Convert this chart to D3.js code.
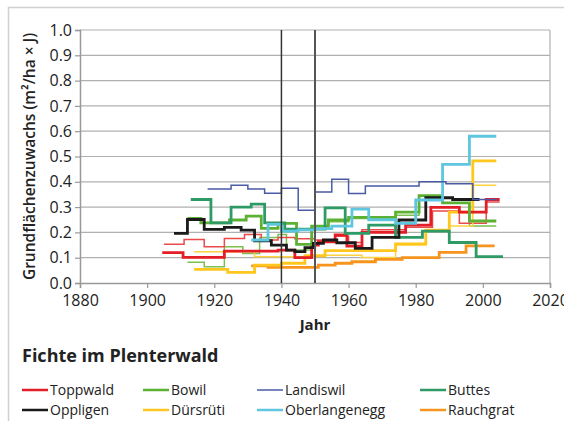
<!DOCTYPE html>
<html>
<head>
<meta charset="utf-8">
<script src="https://cdn.jsdelivr.net/npm/d3@7"></script>
<style>
  body { margin: 0; background: #fff; }
  svg { display: block; font-family: "Open Sans", "Noto Sans", sans-serif; }
</style>
</head>
<body>
<div id="chart"></div>
<script>
// Achsen
const yTicks = [0, 0.1, 0.2, 0.3, 0.4, 0.5, 0.6, 0.7, 0.8, 0.9, 1.0];
const xTicks = [1880, 1900, 1920, 1940, 1960, 1980, 2000, 2020];
const markerYears = [1940, 1950];

// Stufenreihen: [Jahr, Wert], letzter Punkt = Ende der Periode
const toppwaldA = [[1904.5,0.12],[1910.7,0.101],[1923,0.126],[1939,0.13],[1944,0.10],[1949,0.15],[1951,0.163],[1956,0.19],[1959.5,0.146],[1964,0.2],[1977,0.229],[1984.5,0.299],[1993,0.28],[2001,0.33],[2005,0.33]];
const toppwaldB = [[1905,0.153],[1911,0.172],[1917,0.143],[1923,0.176],[1929,0.192],[1934,0.17],[1939,0.18],[1944,0.175],[1950,0.17],[1956,0.185],[1960,0.16],[1964,0.21],[1977,0.22],[1985,0.285],[1993,0.236],[1997,0.236],[2001,0.32],[2005,0.32]];
const bowilA = [[1912,0.255],[1916,0.238],[1924.5,0.249],[1929.5,0.264],[1934,0.216],[1939,0.236],[1944.5,0.153],[1949,0.225],[1954,0.249],[1960,0.259],[1974,0.28],[1981,0.345],[1988,0.317],[1996,0.245],[2004,0.245]];
const bowilB = [[1912,0.082],[1917,0.064],[1923,0.143],[1928.5,0.117],[1933.5,0.18],[1939,0.192],[1941.5,0.13],[1949,0.222],[1954,0.242],[1960,0.255],[1974,0.268],[1981,0.328],[1988,0.315],[1996,0.225],[2004,0.225]];
const landiswil = [[1918,0.372],[1925,0.386],[1930,0.372],[1935,0.355],[1940,0.375],[1945,0.288],[1950,0.36],[1955,0.41],[1960,0.354],[1965,0.383],[1981,0.40],[1989,0.392],[1997,0.33],[2004,0.325]];
const buttes = [[1913,0.33],[1919,0.238],[1925,0.30],[1931,0.312],[1935,0.238],[1941,0.213],[1953,0.297],[1959,0.196],[1966,0.229],[1974,0.18],[1982,0.205],[1990,0.16],[1998,0.104],[2006,0.104]];
const oppligen = [[1908,0.196],[1912,0.251],[1917,0.212],[1923,0.22],[1928,0.209],[1932,0.167],[1937,0.15],[1941.5,0.13],[1944,0.124],[1947,0.14],[1949.5,0.157],[1952.5,0.17],[1956.5,0.159],[1962,0.137],[1967,0.18],[1975,0.249],[1983,0.337],[1991,0.33],[1999,0.33]];
const duersruetiA = [[1914,0.054],[1924,0.042],[1932,0.071],[1940,0.078],[1947,0.107],[1953,0.128],[1974,0.155],[1983,0.209],[1990,0.28],[1997,0.483],[2004,0.483]];
const duersruetiB = [[1914,0.124],[1932,0.104],[1947,0.11],[1964,0.101],[1974,0.15],[1983,0.209],[1990,0.225],[1997,0.386],[2004,0.386]];
const oberlangenegg = [[1931,0.17],[1936,0.232],[1940,0.205],[1945,0.21],[1950,0.215],[1955,0.225],[1961,0.292],[1966,0.25],[1974,0.236],[1980,0.328],[1988,0.469],[1996,0.58],[2004,0.58]];
const rauchgrat = [[1931,0.068],[1936,0.062],[1951,0.071],[1956,0.078],[1961,0.084],[1968,0.093],[1976,0.1],[1987,0.121],[1995,0.147],[2003.5,0.147]];

const series = [
  { data: bowilB, color: '#7cc04f', w: 1.5 },
  { data: toppwaldB, color: '#ea4a4a', w: 1.5 },
  { data: duersruetiB, color: '#ffd23f', w: 1.5 },
  { data: rauchgrat, color: '#f7941d', w: 2.8 },
  { data: duersruetiA, color: '#ffc61e', w: 2.8 },
  { data: toppwaldA, color: '#e41e26', w: 2.8 },
  { data: bowilA, color: '#5cb032', w: 2.8 },
  { data: buttes, color: '#2e9b67', w: 2.8 },
  { data: oppligen, color: '#1a1a1a', w: 2.8 },
  { data: oberlangenegg, color: '#5fc6df', w: 2.8 },
  { data: landiswil, color: '#4a5aa6', w: 1.5 }
];

const legendNames = ['Toppwald', 'Bowil', 'Landiswil', 'Buttes', 'Oppligen', 'Dürsrüti', 'Oberlangenegg', 'Rauchgrat'];
const legendColors = ['#e41e26', '#5cb032', '#4a5aa6', '#2e9b67', '#1a1a1a', '#ffc61e', '#5fc6df', '#f7941d'];

const width = 564, height = 421;
const margin = { left: 80, right: 14, top: 30, bottom: 138 };

const svg = d3.select('#chart').append('svg')
  .attr('width', width)
  .attr('height', height);

// äusserer Rahmen
svg.append('path')
  .attr('d', 'M8.5,' + height + ' V7.5 H' + width)
  .attr('fill', 'none')
  .attr('stroke', '#d0d0d0')
  .attr('stroke-width', 1.5);

const x = d3.scaleLinear().domain([1880, 2020]).range([margin.left, width - margin.right]);
const y = d3.scaleLinear().domain([0, 1]).range([height - margin.bottom, margin.top]);

// Gitter
svg.append('g')
  .selectAll('line')
  .data(yTicks.slice(1))
  .enter()
  .append('line')
  .attr('x1', x(1880))
  .attr('x2', x(2020))
  .attr('y1', d => y(d))
  .attr('y2', d => y(d))
  .attr('stroke', '#b0b0b0')
  .attr('stroke-width', 1.2);

// rechter Rand
svg.append('line')
  .attr('x1', x(2020)).attr('x2', x(2020))
  .attr('y1', y(0)).attr('y2', y(1))
  .attr('stroke', '#b0b0b0')
  .attr('stroke-width', 1.2);

// Achsen
const yAxis = svg.append('g')
  .attr('transform', 'translate(' + x(1880) + ',0)')
  .call(d3.axisLeft(y).tickValues(yTicks).tickFormat(d3.format('.1f')).tickSize(5).tickPadding(3));
const xAxis = svg.append('g')
  .attr('transform', 'translate(0,' + y(0) + ')')
  .call(d3.axisBottom(x).tickValues(xTicks).tickFormat(d3.format('d')).tickSize(5).tickPadding(7));

[yAxis, xAxis].forEach(a => {
  a.select('.domain').attr('stroke', '#999').attr('stroke-width', 1.5);
  a.selectAll('.tick line').attr('stroke', '#999').attr('stroke-width', 1.2);
  a.selectAll('.tick text').attr('font-size', 16).attr('fill', '#222')
    .attr('font-family', '"Open Sans", sans-serif');
});

// Stufenlinien
const line = d3.line()
  .x(d => x(d[0]))
  .y(d => y(d[1]))
  .curve(d3.curveStepAfter);

svg.append('g')
  .selectAll('path')
  .data(series)
  .enter()
  .append('path')
  .attr('d', d => line(d.data))
  .attr('fill', 'none')
  .attr('stroke', d => d.color)
  .attr('stroke-width', d => d.w);

// Markierungen 1940 / 1950
svg.append('g')
  .selectAll('line')
  .data(markerYears)
  .enter()
  .append('line')
  .attr('x1', d => x(d))
  .attr('x2', d => x(d))
  .attr('y1', y(0))
  .attr('y2', y(1))
  .attr('stroke', (d, i) => i === 0 ? '#333' : '#555')
  .attr('stroke-width', (d, i) => i === 0 ? 1.5 : 2);

// Achsentitel
svg.append('text')
  .attr('x', x(1950))
  .attr('y', 330)
  .attr('text-anchor', 'middle')
  .attr('font-size', 15)
  .attr('font-weight', 'bold')
  .attr('fill', '#222')
  .text('Jahr');

svg.append('text')
  .attr('transform', 'translate(35,' + (y(0.5)) + ') rotate(-90)')
  .attr('text-anchor', 'middle')
  .attr('font-size', 15.5)
  .attr('font-weight', 600)
  .attr('fill', '#222')
  .text('Grundflächenzuwachs (m²/ha × J)');

// Titel
svg.append('text')
  .attr('x', 22)
  .attr('y', 362)
  .attr('font-size', 18)
  .attr('font-weight', 'bold')
  .attr('fill', '#222')
  .text('Fichte im Plenterwald');

// Legende
const colX = [22, 143, 257, 420];
const rowY = [390, 410];
const legend = svg.append('g')
  .selectAll('g')
  .data(legendNames)
  .enter()
  .append('g')
  .attr('transform', (d, i) => 'translate(' + colX[i % 4] + ',' + rowY[Math.floor(i / 4)] + ')');

legend.append('line')
  .attr('x1', 0).attr('x2', 26)
  .attr('stroke', (d, i) => legendColors[i])
  .attr('stroke-width', (d, i) => i === 2 ? 1.5 : 2.5);

legend.append('text')
  .attr('x', 28)
  .attr('dy', '0.35em')
  .attr('font-size', 14)
  .attr('fill', '#222')
  .text(d => d);
</script>
</body>
</html>
